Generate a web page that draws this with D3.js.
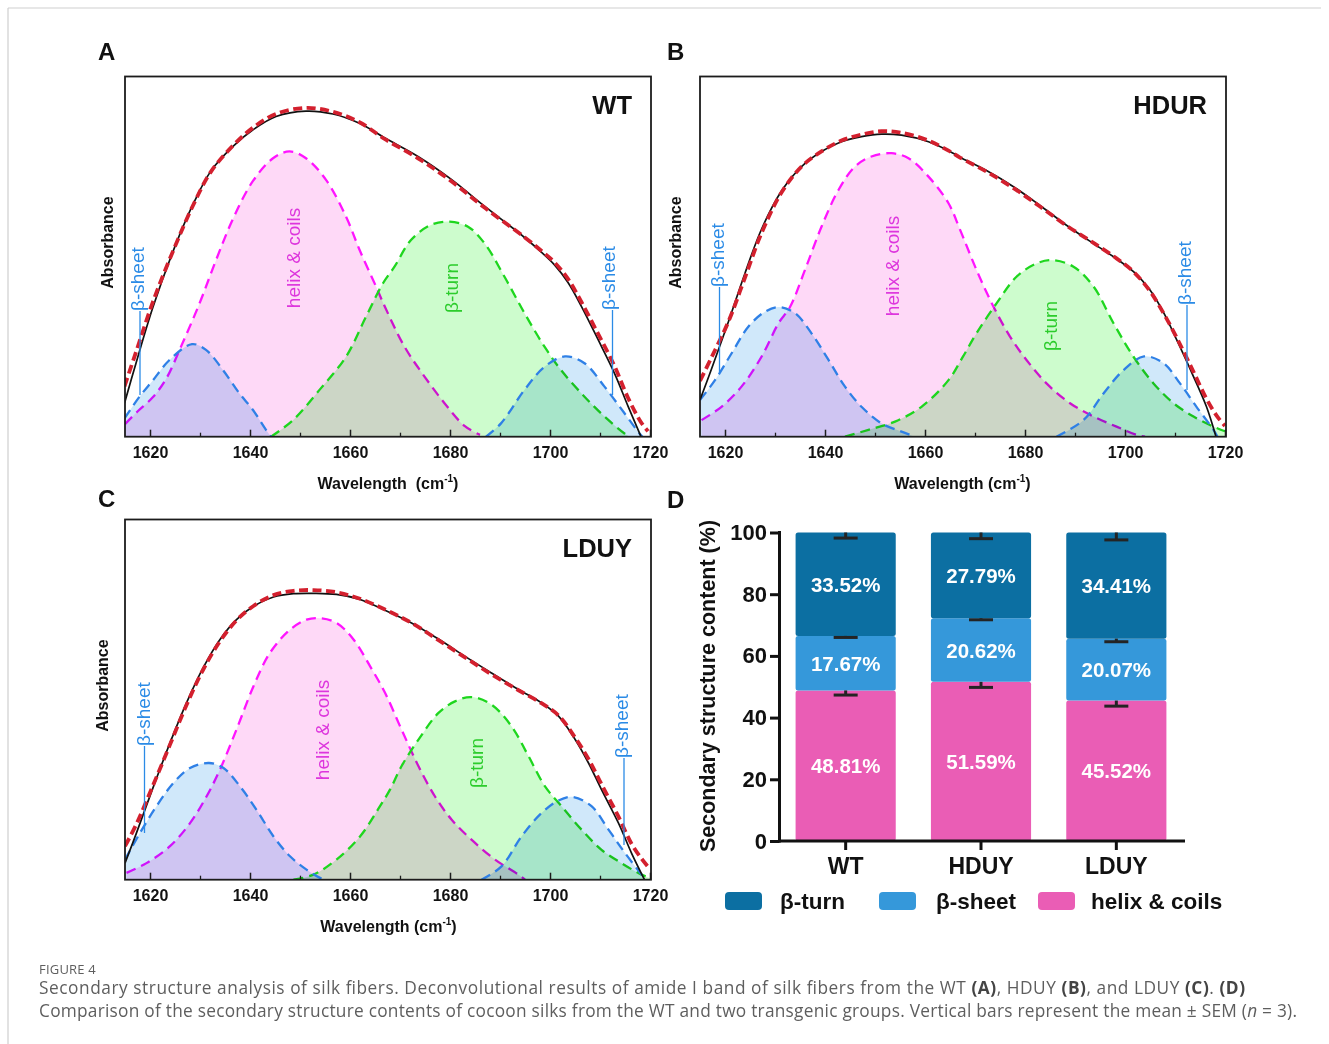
<!DOCTYPE html>
<html><head><meta charset="utf-8">
<script src="https://cdn.jsdelivr.net/npm/d3@7"></script>
<style>html,body{margin:0;padding:0;background:#fff;}svg{display:block;}</style>
</head><body>
<svg id="fig" width="1329" height="1044"></svg>
<script>
// ---------- DATA ----------
const xTicks = [1620, 1640, 1660, 1680, 1700, 1720];
const xMinorTicks = [1630, 1650, 1670, 1690, 1710];
const panelTitles = ['WT', 'HDUR', 'LDUY'];

// Panel A (WT): [wavenumber cm-1, absorbance a.u.]
const wtHelix = [[1615,3.5],[1617.5,7],[1620.6,11],[1623.2,16],[1626.2,25],[1629.9,37],[1633.2,49],[1636.6,60.5],[1640.6,71],[1644.6,77.3],[1647.9,79.2],[1651.2,77.3],[1655.2,71.3],[1659.2,61.1],[1661.9,51.9],[1665.2,41.7],[1667,36],[1670.9,25],[1674.9,16.7],[1678.9,9.3],[1682.9,3],[1686,0.5]];
const wtTurn = [[1644.2,0],[1648.6,4.6],[1653.9,13],[1659.2,22.2],[1663.2,33.3],[1666.6,42.6],[1668.9,47.2],[1672.2,54.6],[1676.2,58.8],[1679.9,59.7],[1683.6,58.3],[1686.9,53.7],[1690.9,44.4],[1694.9,34.3],[1698.9,25],[1702.2,18.5],[1706.9,11.1],[1710.9,5.6],[1714.9,0.9],[1716,0]];
const wtSheetLow = [[1614.9,5.1],[1617.9,11.1],[1620.6,15.7],[1623.9,21.3],[1628.4,25.7],[1631.2,24.1],[1634.6,18.5],[1637.9,12],[1640.6,7.4],[1643.2,1.9],[1644.2,0]];
const wtSheetHigh = [[1687.2,0],[1690.2,3.7],[1694.9,13],[1698.9,19.4],[1703,22.3],[1706.9,20.4],[1710.9,13.9],[1714.9,6.5],[1717.9,0.9],[1718.5,0]];
const wtMeasured = [[1614.9,9.3],[1617.2,20.4],[1620.6,36],[1624.9,52.5],[1628.6,64.5],[1632.2,73.8],[1636.6,80.6],[1640.6,85.2],[1645.2,88.9],[1651.2,90.4],[1656.6,89.6],[1661.9,87],[1667,82.9],[1673.6,77.8],[1680.2,71.5],[1686.9,64],[1694.9,55.3],[1698.2,51.3],[1700.9,47.7],[1703.6,42.8],[1706.2,36.4],[1709.6,27],[1712.9,17.6],[1715.6,8.5],[1718.2,0]];
const wtFit = [[1614.9,14],[1617.2,23.5],[1620.6,37.5],[1624.9,52.5],[1628.6,64.2],[1632.2,73.6],[1636.6,80.8],[1640.6,85.8],[1645.2,89.6],[1651.2,91.3],[1656.6,90.2],[1661.9,87.3],[1667,82.6],[1673.6,77.3],[1680.2,71],[1686.9,63.6],[1694.9,55.4],[1698.2,51.7],[1700.9,48.4],[1703.6,43.8],[1706.2,37.6],[1709.6,28.6],[1712.9,19.6],[1715.6,10.8],[1718.2,4],[1719.6,1.5]];

// Panel B (HDUY)
const hdHelix = [[1615.3,4.6],[1619.3,8.3],[1623.3,13.9],[1627.3,22.2],[1630.7,31.5],[1633,36],[1636,46.3],[1639.3,58.3],[1642.7,68.5],[1646,75],[1649.3,77.8],[1653.3,78.7],[1656.7,77.3],[1660.7,72.2],[1664.7,64.8],[1667,57.5],[1670.3,46.3],[1673.7,36.1],[1677,27.8],[1680.3,21.3],[1684.3,14.8],[1689,9.3],[1693.7,5.6],[1698.3,2.8],[1702.3,0.5],[1704,0]];
const hdTurn = [[1644,0],[1648.7,1.9],[1654,4.2],[1659.3,8.3],[1664.7,15.7],[1667.5,22],[1670.3,28.7],[1674.3,37],[1678.3,44.4],[1682.3,48.1],[1685.5,49],[1689.7,47.2],[1693.7,41.7],[1697.7,31.5],[1701.7,22.2],[1705.7,14.8],[1709.7,9.3],[1713.7,5.6],[1717.7,2.8],[1720,1.5]];
const hdSheetLow = [[1615,10.2],[1618,15.7],[1621.3,23.1],[1624.7,30.6],[1628,34.7],[1630.8,36],[1634,34.3],[1637.3,28.7],[1640.7,21.3],[1644,13.9],[1647.3,8.3],[1651.3,3.7],[1655.3,1.4],[1658,0]];
const hdSheetHigh = [[1686.3,0],[1691.7,4.6],[1695.7,12],[1699.7,18.5],[1703.8,22.3],[1707.7,20.4],[1711,14.8],[1714.3,8.3],[1717.7,1.9],[1718.5,0]];
const hdMeasured = [[1615,10.2],[1617.3,18.8],[1620.7,32],[1624,45.4],[1627.3,57.6],[1631.3,68.2],[1635.3,75],[1639.3,79.2],[1643.3,81.9],[1647.3,83.3],[1651.3,84],[1655.3,83.7],[1660.7,81.9],[1664.7,79.4],[1667,77.6],[1672.3,73.9],[1677.7,69.4],[1683,64.2],[1688.3,58.7],[1693.7,53.6],[1698.3,49.4],[1701.7,45.8],[1705,40.7],[1707.7,34.5],[1710.3,27],[1713.7,16.7],[1716.3,8.3],[1718.2,0]];
const hdFit = [[1615,15.5],[1617.3,22],[1620.7,32],[1624,44.2],[1627.3,56.5],[1631.3,67.8],[1635.3,75],[1639.3,79.2],[1643.3,82.2],[1647.3,83.9],[1651.3,84.8],[1655.3,84.4],[1660.7,82.2],[1664.7,79.4],[1667,77.5],[1672.3,73.6],[1677.7,69],[1683,63.9],[1688.3,58.6],[1693.7,53.8],[1698.3,49.5],[1701.7,45.8],[1705,40.4],[1707.7,34.3],[1710.3,27.6],[1713.7,18],[1716.3,10.5],[1718.5,5.5],[1720,3]];

// Panel C (LDUY)
const ldHelix = [[1615.3,1.9],[1619.3,4.6],[1624,9.3],[1628,15.7],[1631.3,23.1],[1634,30.6],[1637.3,41.7],[1640.7,53.7],[1644,63],[1648,69.4],[1651.3,72.2],[1654,72.6],[1657.3,71.3],[1660.7,66.7],[1664,59.3],[1667,51.9],[1670.3,41.7],[1673.7,31.5],[1677,23.1],[1680.3,16.7],[1684.3,11.1],[1689,5.6],[1693.7,1.4],[1695,0]];
const ldTurn = [[1648.7,0],[1652.7,1.4],[1657.3,5.6],[1662,12],[1666,20.4],[1668,25],[1670.3,31.5],[1673.7,38.9],[1677.7,46.3],[1681,49.5],[1684.3,50.7],[1688.3,48.6],[1692.3,42.6],[1695.7,34.3],[1699,25.9],[1702.3,20.4],[1706.3,13.9],[1710.3,8.3],[1714.3,4.6],[1718.3,1.4],[1720,0.5]];
const ldSheetLow = [[1615,5.6],[1618,13],[1621.3,20.4],[1624.7,26.9],[1628,31],[1631.8,32.4],[1634.7,31],[1638,25.9],[1641.3,19.4],[1644.7,12],[1648,6.5],[1651.3,2.8],[1654,0.5],[1655,0]];
const ldSheetHigh = [[1686.3,0],[1690.3,3.7],[1694.3,12],[1698.3,18.5],[1701.7,22],[1704.5,23],[1708.3,20.4],[1711.7,13.9],[1715,7.4],[1718.3,1.4],[1719,0]];
const ldMeasured = [[1615,4.6],[1617.3,13],[1620.7,25.9],[1624,38],[1627.3,49.1],[1630.7,59],[1634,66.7],[1637.3,72.2],[1640.7,75.9],[1644.7,78.5],[1648.7,79.4],[1652.7,79.5],[1657.3,79.2],[1662,77.8],[1667,74.8],[1672.3,71.3],[1677.7,66.8],[1683,62],[1688.3,57.4],[1693.7,52.8],[1698.3,49.1],[1701.7,45.4],[1705,39],[1707.7,32.4],[1710.3,25],[1713.7,15.7],[1716.3,7.4],[1718.9,0]];
const ldFit = [[1615,9.3],[1617.3,15.5],[1620.7,26.5],[1624,37.5],[1627.3,48.5],[1630.7,58.5],[1634,66.2],[1637.3,72],[1640.7,76],[1644.7,79],[1648.7,80.2],[1652.7,80.4],[1657.3,79.8],[1662,78],[1667,75],[1672.3,71.3],[1677.7,66.5],[1683,61.7],[1688.3,57],[1693.7,52.6],[1698.3,49],[1701.7,45.6],[1705,39.5],[1707.7,33.5],[1710.3,26.5],[1713.7,17.5],[1716.3,10],[1718.5,5.5],[1720,3]];

// Panel D (bar chart)
const barGroups = ['WT', 'HDUY', 'LDUY'];
const helixPct = [48.81, 51.59, 45.52];
const sheetPct = [17.67, 20.62, 20.07];
const turnPct = [33.52, 27.79, 34.41];
const helixSem = [1.5, 1.8, 1.8];
const sheetSem = [0.5, 0.5, 1.0];
const turnSem = [1.8, 2.0, 2.4];
const yTicksD = [0, 20, 40, 60, 80, 100];
const legendLabels = ['β-turn', 'β-sheet', 'helix & coils'];

// ---------- DRAW ----------
const F = "'Liberation Sans', Arial, Helvetica, sans-serif";
const svg = d3.select('#fig');
const defs = svg.append('defs');

svg.append('line').attr('x1',8).attr('y1',8).attr('x2',1321).attr('y2',8).attr('stroke','#cfcfcf').attr('stroke-width',1.2);
svg.append('line').attr('x1',8).attr('y1',8).attr('x2',8).attr('y2',1044).attr('stroke','#cfcfcf').attr('stroke-width',1.2);

const lineCol = {helix:'#ff14ff', turn:'#1ed61e', sheet:'#2f80e6'};
const fillCol = {helix:'#fed9f7', turn:'#cdfccd', sheet:'#d0e8fa'};
const textCol = {helix:'#dd35dd', turn:'#2ccc2c', sheet:'#2b8be6'};

const spectra = [
  {key:'A', title:panelTitles[0], x0:125, x1:650, y0:76.5, y1:436.7, letter:[98,60], absX:107.5, wlX:388, wlGap:'\u00a0\u00a0',
   helix:wtHelix, turn:wtTurn, sLow:wtSheetLow, sHigh:wtSheetHigh, meas:wtMeasured, fit:wtFit,
   helixLbl:[293,258], turnLbl:[451,288], cL:[137.5,311,140,395], cR:[608,310,612.5,395]},
  {key:'B', title:panelTitles[1], x0:700, x1:1225, y0:76.5, y1:436.7, letter:[667,60], absX:675.5, wlX:962.5, wlGap:' ',
   helix:hdHelix, turn:hdTurn, sLow:hdSheetLow, sHigh:hdSheetHigh, meas:hdMeasured, fit:hdFit,
   helixLbl:[892,266], turnLbl:[1050,326], cL:[717,287,719.5,372], cR:[1184,305,1187,390]},
  {key:'C', title:panelTitles[2], x0:125, x1:650, y0:519.5, y1:879.7, letter:[98,507], absX:102.5, wlX:388.5, wlGap:' ',
   helix:ldHelix, turn:ldTurn, sLow:ldSheetLow, sHigh:ldSheetHigh, meas:ldMeasured, fit:ldFit,
   helixLbl:[322,730], turnLbl:[476,763], cL:[143,746,144.5,833], cR:[621,758,624,845]}
];

const curve = d3.curveCatmullRom.alpha(0.5);

spectra.forEach(p => {
  const g = svg.append('g');
  const x = d3.scaleLinear().domain([1615, 1720]).range([p.x0, p.x1]);
  const y = d3.scaleLinear().domain([0, 100]).range([p.y1, p.y0]);
  const cid = 'clip' + p.key;
  defs.append('clipPath').attr('id', cid).append('rect')
    .attr('x', p.x0).attr('y', p.y0).attr('width', p.x1 - p.x0 + 1).attr('height', p.y1 - p.y0);
  const plot = g.append('g').attr('clip-path', `url(#${cid})`).style('isolation', 'isolate');
  const area = d3.area().x(d => x(d[0])).y0(y(0)).y1(d => y(d[1])).curve(curve);
  const line = d3.line().x(d => x(d[0])).y(d => y(d[1])).curve(curve);
  [['helix', p.helix], ['turn', p.turn], ['sheet', p.sLow], ['sheet', p.sHigh]].forEach(([k, d]) => {
    plot.append('path').datum(d).attr('d', area).attr('fill', fillCol[k]).style('mix-blend-mode', 'multiply');
    plot.append('path').datum(d).attr('d', line).attr('fill', 'none').attr('stroke', lineCol[k])
      .attr('stroke-width', 2.3).attr('stroke-dasharray', '10,6');
  });
  plot.append('path').datum(p.meas).attr('d', line).attr('fill', 'none').attr('stroke', '#111').attr('stroke-width', 1.7);
  plot.append('path').datum(p.fit).attr('d', line).attr('fill', 'none').attr('stroke', '#d3202e')
    .attr('stroke-width', 3.8).attr('stroke-dasharray', '9,4.5');

  g.append('rect').attr('x', p.x0).attr('y', p.y0).attr('width', p.x1 - p.x0 + 1).attr('height', p.y1 - p.y0)
    .attr('fill', 'none').attr('stroke', '#1c1c1c').attr('stroke-width', 1.8);

  const ax = g.append('g').attr('transform', `translate(0,${p.y1})`)
    .call(d3.axisBottom(x).tickValues(xTicks).tickSize(-7).tickPadding(10).tickFormat(d3.format('d')));
  ax.select('.domain').remove();
  ax.selectAll('line').attr('stroke', '#1c1c1c').attr('stroke-width', 1.5);
  ax.selectAll('text').attr('font-family', F).attr('font-size', 16).attr('font-weight', 'bold').attr('fill', '#111');
  const axm = g.append('g').attr('transform', `translate(0,${p.y1})`)
    .call(d3.axisBottom(x).tickValues(xMinorTicks).tickSize(-4).tickFormat(''));
  axm.select('.domain').remove();
  axm.selectAll('line').attr('stroke', '#1c1c1c').attr('stroke-width', 1.3);

  const wl = g.append('text').attr('x', p.wlX).attr('y', p.y1 + 52.3).attr('text-anchor', 'middle')
    .attr('font-family', F).attr('font-size', 16).attr('font-weight', 'bold').attr('fill', '#111');
  wl.append('tspan').text('Wavelength' + p.wlGap + '(cm');
  wl.append('tspan').attr('font-size', 10).attr('dy', -7).text('-1');
  wl.append('tspan').attr('dy', 7).text(')');
  g.append('text').attr('transform', `translate(${p.absX},${(p.y0 + p.y1) / 2 - 14}) rotate(-90)`)
    .attr('text-anchor', 'middle').attr('dominant-baseline', 'central')
    .attr('font-family', F).attr('font-size', 16).attr('font-weight', 'bold').attr('fill', '#111').text('Absorbance');

  svg.append('text').attr('x', p.letter[0]).attr('y', p.letter[1]).attr('font-family', F).attr('font-size', 24)
    .attr('font-weight', 'bold').attr('fill', '#111').text(p.key);
  g.append('text').attr('x', p.x1 - 18).attr('y', p.y0 + 37.5).attr('text-anchor', 'end').attr('font-family', F)
    .attr('font-size', 25.5).attr('font-weight', 'bold').attr('fill', '#111').text(p.title);

  const rot = (pos, txt, col) => g.append('text').attr('transform', `translate(${pos[0]},${pos[1]}) rotate(-90)`)
    .attr('text-anchor', 'middle').attr('dominant-baseline', 'central').attr('font-family', F)
    .attr('font-size', 19).attr('fill', col).text(txt);
  rot(p.helixLbl, 'helix & coils', textCol.helix);
  rot(p.turnLbl, 'β-turn', textCol.turn);
  [p.cL, p.cR].forEach(c => {
    g.append('text').attr('transform', `translate(${c[0]},${c[1]}) rotate(-90)`)
      .attr('text-anchor', 'start').attr('dominant-baseline', 'central').attr('font-family', F)
      .attr('font-size', 19).attr('fill', textCol.sheet).text('β-sheet');
    g.append('line').attr('x1', c[2]).attr('x2', c[2]).attr('y1', c[1]).attr('y2', c[3])
      .attr('stroke', textCol.sheet).attr('stroke-width', 1.3);
  });
});

// ---------- Panel D ----------
const gD = svg.append('g');
const yD = d3.scaleLinear().domain([0, 100]).range([841, 532.5]);
const xD = d3.scaleBand().domain(barGroups).range([778, 1184]).paddingInner(0.26).paddingOuter(0.13);
const rows = barGroups.map((grp, i) => ({group: grp, helix: helixPct[i], sheet: sheetPct[i], turn: turnPct[i],
  helixSem: helixSem[i], sheetSem: sheetSem[i], turnSem: turnSem[i]}));
const keys = ['helix', 'sheet', 'turn'];
const barCol = {helix: '#ea5db5', sheet: '#3598da', turn: '#0c6fa2'};
const stacked = d3.stack().keys(keys)(rows);

stacked.forEach(s => {
  gD.append('g').selectAll('rect').data(s).join('rect')
    .attr('x', d => xD(d.data.group)).attr('width', xD.bandwidth())
    .attr('y', d => yD(d[1])).attr('height', d => yD(d[0]) - yD(d[1]))
    .attr('rx', 2.5).attr('fill', barCol[s.key]);
});
stacked.forEach(s => {
  const cx = d => xD(d.data.group) + xD.bandwidth() / 2;
  const eg = gD.append('g').attr('stroke', '#242424').attr('stroke-width', 3);
  eg.selectAll('line.v').data(s).join('line').attr('class', 'v')
    .attr('x1', cx).attr('x2', cx).attr('y1', d => yD(d[1])).attr('y2', d => yD(d[1] - d.data[s.key + 'Sem']));
  eg.selectAll('line.c').data(s).join('line').attr('class', 'c')
    .attr('x1', d => cx(d) - 12).attr('x2', d => cx(d) + 12)
    .attr('y1', d => yD(d[1] - d.data[s.key + 'Sem'])).attr('y2', d => yD(d[1] - d.data[s.key + 'Sem']));
  gD.append('g').selectAll('text').data(s).join('text')
    .attr('x', cx).attr('y', d => yD((d[0] + d[1]) / 2)).attr('text-anchor', 'middle').attr('dominant-baseline', 'central')
    .attr('font-family', F).attr('font-size', 20.5).attr('font-weight', 'bold').attr('fill', '#fff')
    .text(d => d.data[s.key].toFixed(2) + '%');
});

const ayD = gD.append('g').attr('transform', 'translate(779.5,0)')
  .call(d3.axisLeft(yD).tickValues(yTicksD).tickSize(9.5).tickSizeOuter(0).tickPadding(3));
ayD.select('.domain').remove();
ayD.selectAll('line').attr('stroke', '#111').attr('stroke-width', 3);
ayD.selectAll('text').attr('font-family', F).attr('font-size', 22).attr('font-weight', 'bold').attr('fill', '#111');
const axD = gD.append('g').attr('transform', 'translate(0,841)')
  .call(d3.axisBottom(xD).tickSize(9).tickSizeOuter(0).tickPadding(8));
axD.select('.domain').remove();
axD.selectAll('line').attr('stroke', '#111').attr('stroke-width', 3);
axD.selectAll('text').attr('font-family', F).attr('font-size', 23).attr('font-weight', 'bold').attr('fill', '#111');
gD.append('line').attr('x1', 779.5).attr('x2', 779.5).attr('y1', 531).attr('y2', 842.5).attr('stroke', '#111').attr('stroke-width', 3);
gD.append('line').attr('x1', 778).attr('x2', 1185).attr('y1', 841).attr('y2', 841).attr('stroke', '#111').attr('stroke-width', 3);

gD.append('text').attr('transform', 'translate(708,686) rotate(-90)').attr('text-anchor', 'middle')
  .attr('dominant-baseline', 'central').attr('font-family', F).attr('font-size', 21.5).attr('font-weight', 'bold')
  .attr('fill', '#111').text('Secondary structure content (%)');
svg.append('text').attr('x', 667).attr('y', 508).attr('font-family', F).attr('font-size', 24)
  .attr('font-weight', 'bold').attr('fill', '#111').text('D');

const legKeys = ['turn', 'sheet', 'helix'];
const legSw = [725, 879, 1038];
const legTx = [780, 936, 1091];
legendLabels.forEach((lab, i) => {
  gD.append('rect').attr('x', legSw[i]).attr('y', 892).attr('width', 37).attr('height', 18).attr('rx', 4)
    .attr('fill', barCol[legKeys[i]]);
  gD.append('text').attr('x', legTx[i]).attr('y', 909).attr('font-family', F).attr('font-size', 22.5)
    .attr('font-weight', 'bold').attr('fill', '#111').text(lab);
});

// ---------- Caption ----------
const CF = "'Open Sans', 'Noto Sans', sans-serif";
svg.append('text').attr('x', 39).attr('y', 974).attr('font-family', CF).attr('font-size', 13)
  .attr('fill', '#5e5e5e').attr('letter-spacing', 0.2).text('FIGURE 4');
const cap1 = svg.append('text').attr('x', 39).attr('y', 994).attr('font-family', CF).attr('font-size', 17.3)
  .attr('fill', '#5e5e5e').attr('textLength', 1206).attr('lengthAdjust', 'spacing');
[['Secondary structure analysis of silk fibers. Deconvolutional results of amide I band of silk fibers from the WT ', 0],
 ['(A)', 1], [', HDUY ', 0], ['(B)', 1], [', and LDUY ', 0], ['(C)', 1], ['. ', 0], ['(D)', 1]]
  .forEach(([t, b]) => cap1.append('tspan').attr('font-weight', b ? 'bold' : null).attr('fill', b ? '#444' : null).text(t));
const cap2 = svg.append('text').attr('x', 39).attr('y', 1017).attr('font-family', CF).attr('font-size', 17.3)
  .attr('fill', '#5e5e5e').attr('textLength', 1258).attr('lengthAdjust', 'spacing');
[['Comparison of the secondary structure contents of cocoon silks from the WT and two transgenic groups. Vertical bars represent the mean ± SEM (', 0],
 ['n', 2], [' = 3).', 0]]
  .forEach(([t, b]) => cap2.append('tspan').attr('font-style', b === 2 ? 'italic' : null).text(t));
</script>
</body></html>
